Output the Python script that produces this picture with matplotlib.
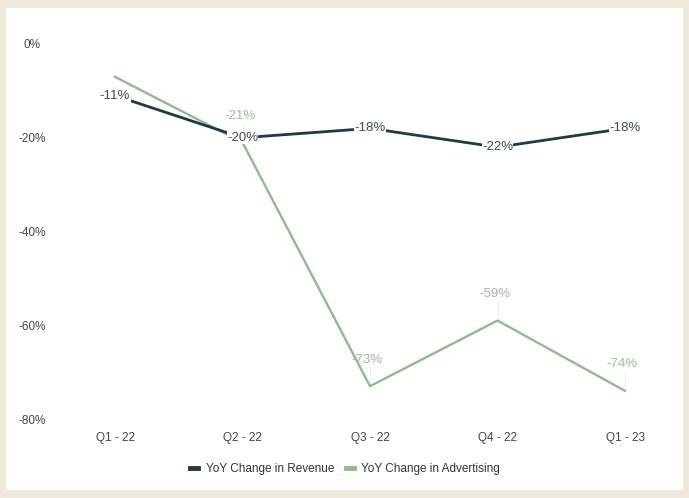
import matplotlib
matplotlib.use("Agg")
import matplotlib.pyplot as plt
from matplotlib.patches import Rectangle

plt.rcParams['font.family'] = ['Liberation Sans Narrow', 'Liberation Sans', 'DejaVu Sans']

quarters = ['Q1 - 22', 'Q2 - 22', 'Q3 - 22', 'Q4 - 22', 'Q1 - 23']
revenue = [-11, -20, -18, -22, -18]
advertising = [-7, -21, -73, -59, -74]
ad_labels = [None, '-21%', '-73%', '-59%', '-74%']
yticks = [0, -20, -40, -60, -80]

rev_color = '#1e3a46'
ad_color = '#8fbc8a'

fig = plt.figure(figsize=(6.89, 4.98), dpi=100)
fig.patch.set_facecolor('#efe9dc')
# white card behind the chart
fig.patches.append(Rectangle((6 / 689, 8 / 498), 677 / 689, 482 / 498,
                             transform=fig.transFigure, facecolor='white',
                             edgecolor='none', zorder=-5))

ax = fig.add_axes([70 / 689, 79 / 498, 600 / 689, 375 / 498])
ax.set_facecolor('none')
ax.set_zorder(1)

x = list(range(len(quarters)))
ax.plot(x, advertising, color=ad_color, lw=1.7, zorder=2, clip_on=False,
        label='YoY Change in Advertising')
ax.plot(x, revenue, color=rev_color, lw=2.0, zorder=3, clip_on=False,
        label='YoY Change in Revenue')

for xi, v in zip(x, revenue):
    ax.text(xi, v, f'{v}%', ha='center', va='center', fontsize=9.5,
            color='#3d4b52', zorder=4,
            bbox=dict(facecolor='white', edgecolor='none', pad=0.3))

for xi, v, lab in zip(x, advertising, ad_labels):
    if lab is None:
        continue
    ax.plot([xi, xi], [v, v + 4], color='#e4ece3', lw=0.6, zorder=1)
    ax.annotate(lab, (xi, v), xytext=(-2, 19), textcoords='offset points',
                ha='center', va='center', fontsize=9.5, color='#9dbc99')

ax.set_xlim(-(115 - 70) / 127.5, 4 + (670 - 625) / 127.5)
ax.set_ylim(-80, 0)
ax.set_xticks(x)
ax.set_xticklabels(quarters)
ax.set_yticks(yticks)
ax.set_yticklabels([f'{t}%' for t in yticks], ha='center')
ax.tick_params(length=0, labelsize=8.5, labelcolor='#444444')
ax.tick_params(axis='y', pad=27)
ax.tick_params(axis='x', pad=9)
for s in ax.spines.values():
    s.set_visible(False)

handles, labels = ax.get_legend_handles_labels()
fig.legend(handles[::-1], labels[::-1], loc='center',
           bbox_to_anchor=(345 / 689, 1 - 469 / 498), ncol=2, frameon=False,
           fontsize=8.5, handlelength=0.7, handletextpad=0.6, columnspacing=1.0,
           labelcolor='#333333')
for h in fig.legends[0].get_lines():
    h.set_linewidth(3.5)

fig.savefig('out.png', dpi=100, facecolor=fig.get_facecolor())
